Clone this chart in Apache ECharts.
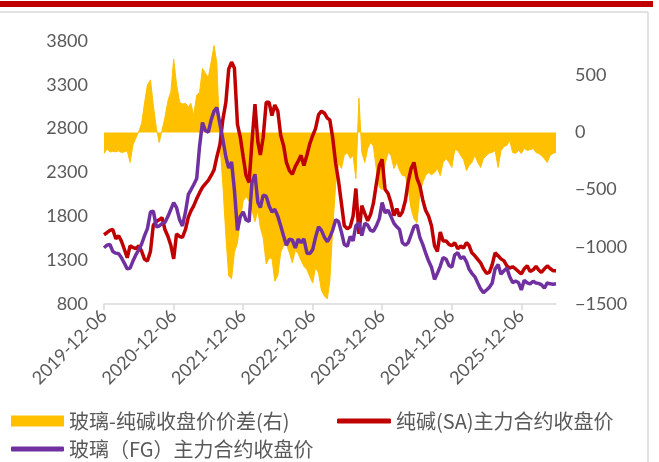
<!DOCTYPE html>
<html>
<head>
<meta charset="utf-8">
<script src="https://cdn.jsdelivr.net/npm/echarts@6/dist/echarts.min.js"></script>
<style>
  html, body { margin: 0; padding: 0; background: #ffffff; }
  #chart { width: 659px; height: 462px; }
</style>
</head>
<body>
<div id="chart"></div>
<script>
// Semi-monthly sampling calendar (6th and 21st of each month), 2019-12-06 .. 2026-06-06
const sampleDates = [];
(function () {
  let y = 2019, m = 12;
  while (true) {
    for (const d of [6, 21]) {
      const s = y + '-' + String(m).padStart(2, '0') + '-' + String(d).padStart(2, '0');
      sampleDates.push(s);
      if (s === '2026-06-06') return;
    }
    m += 1;
    if (m > 12) { m = 1; y += 1; }
  }
})();

// Axis tick dates (one per year)
const tickDates = ['2019-12-06', '2020-12-06', '2021-12-06', '2022-12-06', '2023-12-06', '2024-12-06', '2025-12-06'];

// Glass minus soda ash close spread (right axis)
const spread = [
  -183, -145, -170, -165, -170, -160, -175, -170, -160, -262, -110, -50,
  10, 80, 260, 414, 460, 238, 36, -87, 20, 130, 280, 352,
  640, 420, 264, 250, 255, 220, 255, 150, 326, 350, 560, 520,
  480, 620, 760, 600, -100, -450, -900, -1255, -1280, -1050, -965, -760,
  -600, -560, -600, -680, -780, -680, -830, -920, -1150, -1100, -1100, -1300,
  -1250, -1050, -990, -980, -1053, -1140, -1030, -1060, -1120, -1170, -1200, -1260,
  -1316, -1180, -1230, -1380, -1430, -1456, -1300, -850, -450, -262, -315, -200,
  -175, -227, -201, -403, 300, -175, -262, -140, -87, -120, -330, -480,
  -500, -280, -175, -201, -315, -262, -330, -377, -380, -500, -666, -754,
  -789, -526, -438, -377, -350, -370, -350, -315, -377, -262, -227, -262,
  -306, -150, -157, -201, -240, -333, -290, -262, -201, -262, -306, -227,
  -201, -180, -175, -157, -306, -160, -122, -113, -69, -175, -183, -157,
  -183, -140, -157, -150, -140, -175, -183, -201, -230, -262, -201, -183,
  -175
];

// Soda ash (SA) main contract close
const saClose = [
  1590, 1613, 1640, 1650, 1544, 1579, 1520, 1430, 1327, 1464, 1445, 1430,
  1464, 1400, 1310, 1292, 1400, 1700, 1740, 1760, 1785, 1650, 1570, 1470,
  1315, 1600, 1570, 1560, 1650, 1790, 1860, 1920, 2002, 2070, 2130, 2170,
  2210, 2266, 2330, 2480, 2620, 2900, 3100, 3480, 3560, 3491, 2850, 2700,
  2480, 2266, 2186, 2643, 3080, 2650, 2500, 2700, 3100, 3100, 2950, 3070,
  3000, 2724, 2609, 2415, 2320, 2280, 2370, 2430, 2495, 2380, 2500, 2630,
  2720, 2800, 2960, 3000, 2976, 2920, 2900, 2700, 2400, 2200, 1950, 1693,
  1659, 1680, 1800, 2117, 1600, 1922, 1830, 1750, 1820, 1950, 2180, 2380,
  2450, 2110, 2060, 1957, 1808, 1888, 1800, 1850, 1980, 2200, 2346, 2415,
  2232, 2150, 1990, 1870, 1800, 1693, 1464, 1400, 1620, 1520, 1520, 1480,
  1464, 1499, 1430, 1460, 1440, 1500, 1470, 1384, 1350, 1310, 1270, 1201,
  1150, 1160, 1250, 1384, 1350, 1315, 1292, 1235, 1210, 1225, 1200, 1170,
  1144, 1201, 1235, 1170, 1190, 1230, 1190, 1160, 1201, 1235, 1205, 1180,
  1180
];

// Glass (FG) main contract close
const fgClose = [
  1441, 1470, 1480, 1400, 1380, 1373, 1330, 1270, 1200, 1210, 1290, 1360,
  1420, 1487, 1580, 1660, 1850, 1860, 1680, 1690, 1716, 1730, 1800, 1880,
  1957, 1900, 1760, 1690, 1850, 2050, 2100, 2160, 2232, 2600, 2870, 2780,
  2760, 2900, 3000, 3040, 2850, 2680, 2480, 2350, 2420, 2100, 1640, 1800,
  1850, 1760, 1740, 2180, 2280, 1960, 1900, 2040, 2030, 1920, 1850, 1880,
  1800, 1693, 1579, 1470, 1540, 1530, 1440, 1540, 1499, 1544, 1380, 1375,
  1420, 1560, 1680, 1640, 1560, 1510, 1560, 1640, 1760, 1740, 1620, 1480,
  1460, 1570, 1520, 1693, 1728, 1580, 1720, 1700, 1640, 1630, 1693, 1773,
  1957, 1840, 1870, 1800, 1720, 1680, 1650, 1499, 1470, 1500, 1590, 1680,
  1700, 1560, 1480, 1384, 1290, 1220, 1080, 1150, 1230, 1330, 1310, 1240,
  1220, 1360, 1384, 1320, 1340, 1280, 1200, 1150, 1110, 1040, 972, 930,
  960, 990, 1040, 1200, 1250, 1140, 1180, 1210, 1110, 1045, 1060, 1045,
  960, 1070, 1041, 1030, 1060, 1040, 1035, 1020, 980, 1040, 1030, 1025,
  1030
];

const seriesNames = ['玻璃-纯碱收盘价价差(右)', '纯碱(SA)主力合约收盘价', '玻璃（FG）主力合约收盘价'];

function ts(s) {
  const p = s.split('-').map(Number);
  return Date.UTC(p[0], p[1] - 1, p[2]);
}
function pairs(values) {
  return sampleDates.map((d, i) => [ts(d), values[i]]);
}
function fmtDate(v) {
  const d = new Date(v);
  return d.getUTCFullYear() + '-' + String(d.getUTCMonth() + 1).padStart(2, '0') + '-' + String(d.getUTCDate()).padStart(2, '0');
}

const tickValues = tickDates.map(ts);
const labelColor = '#595959';
const numFont = 'Lato, "Noto Sans", sans-serif';
const cjkFont = '"Noto Sans CJK SC", sans-serif';

const chart = echarts.init(document.getElementById('chart'), null, { renderer: 'canvas' });

chart.setOption({
  animation: false,
  backgroundColor: '#ffffff',
  graphic: [
    { type: 'rect', shape: { x: 0, y: 1, width: 653, height: 6 }, style: { fill: '#C00000' }, silent: true },
    { type: 'line', shape: { x1: 0, y1: 12, x2: 648, y2: 12 }, style: { stroke: '#D9D9D9', lineWidth: 1.5 }, silent: true },
    { type: 'line', shape: { x1: 648, y1: 12, x2: 648, y2: 462 }, style: { stroke: '#D9D9D9', lineWidth: 1.5 }, silent: true }
  ],
  grid: { left: 104, right: 103, top: 41, bottom: 158, containLabel: false, outerBoundsMode: 'none' },
  legend: [
    {
      data: [seriesNames[0]], left: 11, top: 411, padding: 0,
      icon: 'rect', itemWidth: 53, itemHeight: 11, itemGap: 0,
      textStyle: { fontSize: 20, color: labelColor, fontFamily: cjkFont }
    },
    {
      data: [seriesNames[1]], left: 337, top: 411, padding: 0,
      icon: 'roundRect', itemWidth: 54, itemHeight: 5, itemGap: 0,
      textStyle: { fontSize: 20, color: labelColor, fontFamily: cjkFont }
    },
    {
      data: [seriesNames[2]], left: 11, top: 439, padding: 0,
      icon: 'roundRect', itemWidth: 53, itemHeight: 5, itemGap: 0,
      textStyle: { fontSize: 20, color: labelColor, fontFamily: cjkFont }
    }
  ],
  xAxis: {
    type: 'value',
    min: ts(sampleDates[0]),
    max: ts(sampleDates[sampleDates.length - 1]),
    axisLine: { onZero: false, lineStyle: { color: '#D9D9D9', width: 1.5 } },
    axisTick: { show: true, customValues: tickValues, length: 6, lineStyle: { color: '#D9D9D9', width: 1.5 } },
    axisLabel: {
      customValues: tickValues,
      rotate: 45,
      margin: 9,
      fontSize: 18,
      color: labelColor,
      fontFamily: numFont,
      formatter: (v) => fmtDate(v)
    },
    splitLine: { show: false }
  },
  yAxis: [
    {
      type: 'value', position: 'left', min: 800, max: 3800, interval: 500,
      axisLine: { show: false }, axisTick: { show: false }, splitLine: { show: false },
      axisLabel: {
        fontSize: 18, color: labelColor, fontFamily: numFont, margin: 16,
        formatter: (v) => String(v)
      }
    },
    {
      type: 'value', position: 'right', min: -1500, max: 800, interval: 500,
      axisLine: { show: false }, axisTick: { show: false }, splitLine: { show: false },
      axisLabel: {
        fontSize: 18, color: labelColor, fontFamily: numFont, margin: 19, showMaxLabel: false,
        formatter: (v) => String(v).replace('-', '\u2212')
      }
    }
  ],
  series: [
    {
      name: seriesNames[0], type: 'line', yAxisIndex: 1,
      data: pairs(spread), showSymbol: false, symbol: 'none',
      itemStyle: { color: '#FFC000' },
      lineStyle: { color: '#FFC000', width: 1 },
      areaStyle: { color: '#FFC000', opacity: 1, origin: 0 }
    },
    {
      name: seriesNames[1], type: 'line', yAxisIndex: 0,
      data: pairs(saClose), showSymbol: false, symbol: 'none',
      itemStyle: { color: '#C00000' },
      lineStyle: { color: '#C00000', width: 3.5 }
    },
    {
      name: seriesNames[2], type: 'line', yAxisIndex: 0,
      data: pairs(fgClose), showSymbol: false, symbol: 'none',
      itemStyle: { color: '#7030A0' },
      lineStyle: { color: '#7030A0', width: 3.5 }
    }
  ]
});
</script>
</body>
</html>
